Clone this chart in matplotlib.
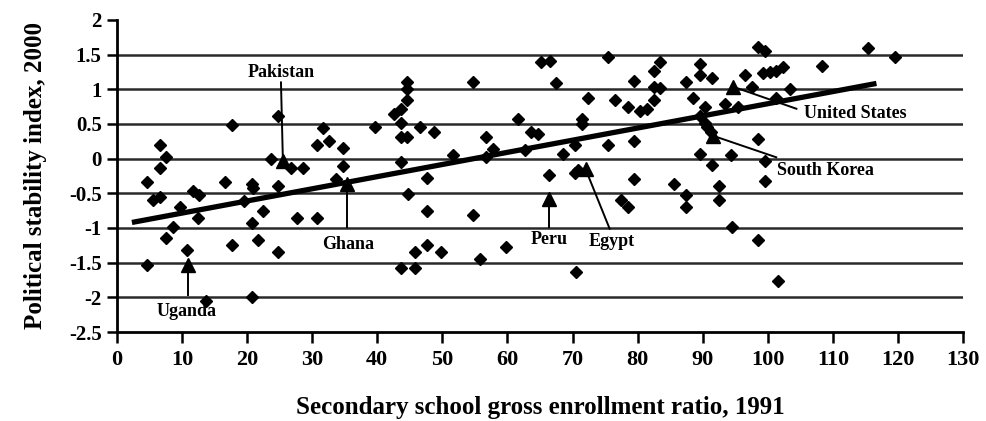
import matplotlib
matplotlib.use("Agg")
import matplotlib.pyplot as plt

plt.rcParams['font.family'] = ['Liberation Serif', 'DejaVu Serif']
plt.rcParams['font.weight'] = 'bold'

enroll = [4.6, 4.6, 6.6, 7.6, 6.6, 5.6, 6.6, 9.7, 8.6, 7.6, 10.7, 13.7, 20.7,
          11.7, 12.6, 12.5, 16.6, 17.6, 17.7, 19.5, 20.7, 20.9, 20.7, 21.7, 22.5,
          24.7, 24.7, 24.7, 23.6, 26.7, 28.6, 27.7, 30.7, 30.7, 31.7, 32.6, 34.8,
          34.8, 33.6, 39.7, 42.6, 43.6, 44.6, 44.6, 44.6, 43.6, 43.6, 44.6, 43.7,
          44.7, 43.6, 45.8, 45.8, 46.5, 47.6, 47.6, 47.6, 48.7, 49.8, 51.7, 54.7,
          54.7, 55.8, 56.7, 56.7, 57.8, 59.8, 61.6, 62.7, 63.6, 64.7, 65.2, 66.5,
          67.4, 66.4, 68.5, 70.4, 70.4, 70.5, 70.9, 71.5, 71.5, 72.4, 75.5, 75.5,
          76.5, 77.5, 78.5, 78.5, 79.5, 79.5, 79.5, 80.3, 81.4, 82.5, 82.5, 83.4,
          82.5, 83.4, 85.6, 87.5, 87.5, 87.5, 88.5, 89.6, 89.6, 89.6, 90.3, 90.6,
          89.6, 90.3, 91.5, 91.3, 91.5, 92.5, 92.5, 93.4, 94.4, 94.5, 95.4, 96.5,
          97.5, 98.5, 99.5, 99.3, 100.3, 101.3, 102.3, 98.5, 99.5, 99.5, 98.5,
          101.3, 103.4, 101.5, 108.4, 115.4, 119.5]
stability = [-0.34, -1.53, 0.20, 0.02, -0.14, -0.60, -0.56, -0.70, -0.99, -1.15, -1.32, -2.05, -2.00,
             -0.46, -0.53, -0.86, -0.34, 0.49, -1.25, -0.61, -0.37, -0.43, -0.93, -1.18, -0.76,
             0.62, -0.39, -1.35, 0.00, -0.14, -0.14, -0.85, -0.86, 0.20, 0.44, 0.26, 0.15,
             -0.10, -0.30, 0.45, 0.64, 0.72, 0.84, 1.00, 1.10, 0.51, 0.31, 0.31, -0.05,
             -0.51, -1.57, -1.57, -1.35, 0.45, -0.28, -0.75, -1.25, 0.38, -1.35, 0.06, 1.11,
             -0.81, -1.45, 0.31, 0.02, 0.14, -1.28, 0.57, 0.12, 0.39, 0.36, 1.39, 1.41,
             1.09, -0.23, 0.07, 0.19, -0.21, -1.64, -0.17, 0.57, 0.50, 0.87, 1.46, 0.19,
             0.85, -0.60, -0.70, 0.74, 1.12, 0.26, -0.29, 0.69, 0.72, 0.84, 1.03, 1.02,
             1.27, 1.40, -0.37, 1.10, -0.53, -0.70, 0.87, 1.37, 1.21, 0.62, 0.52, 0.45,
             0.07, 0.74, 1.16, 0.38, -0.09, -0.40, -0.60, 0.79, 0.06, -0.99, 0.74, 1.20,
             1.04, 1.61, 1.56, 1.24, 1.25, 1.27, 1.32, 0.28, -0.03, -0.32, -1.17,
             0.88, 1.00, -1.77, 1.34, 1.60, 1.46]

# highlighted countries
countries = ['Pakistan', 'Uganda', 'Ghana', 'Peru', 'Egypt', 'South Korea', 'United States']
country_x = [25.5, 10.9, 35.4, 66.4, 72.0, 91.6, 94.6]
country_y = [-0.04, -1.54, -0.36, -0.58, -0.15, 0.33, 1.04]
label_x = [25.2, 10.7, 35.5, 66.4, 76.0, 108.8, 113.4]
label_y = [1.24, -2.21, -1.24, -1.17, -1.20, -0.17, 0.65]
leader_start_x = [25.2, 10.9, 35.4, 66.4, 75.7, 101.3, 104.4]
leader_start_y = [1.10, -1.97, -0.98, -0.98, -1.01, 0.02, 0.72]

trend_x = [2.3, 116.7]
trend_y = [-0.92, 1.085]

xticks = list(range(0, 131, 10))
yticks = [-2.5, -2, -1.5, -1, -0.5, 0, 0.5, 1, 1.5, 2]
ytick_labels = ['-2.5', '-2', '-1.5', '-1', '-0.5', '0', '0.5', '1', '1.5', '2']

fig = plt.figure(figsize=(9.87, 4.21), dpi=100)
ax = fig.add_axes([0.1185, 0.2114, 0.8572, 0.7411])

for yv in yticks[1:-1]:
    ax.axhline(yv, color='#2a2a2a', lw=1.8, zorder=1)

ax.plot(trend_x, trend_y, color='black', lw=3.8, solid_capstyle='butt', zorder=3)
ax.plot(enroll, stability, linestyle='none', marker='D', ms=6.5,
        color='black', zorder=4)
ax.plot(country_x, country_y, linestyle='none', marker='^', ms=10.5,
        color='black', zorder=5)

for name, cx, cy, lx, ly, sx, sy in zip(countries, country_x, country_y,
                                         label_x, label_y,
                                         leader_start_x, leader_start_y):
    ax.plot([sx, cx], [sy, cy], color='black', lw=1.4, zorder=4)
    ax.text(lx, ly, name, ha='center', va='center', fontsize=13,
            fontweight='bold', zorder=6)

ax.set_xlim(0, 130)
ax.set_ylim(-2.5, 2)
ax.set_xticks(xticks)
ax.set_xticklabels([str(v) for v in xticks], fontsize=16, fontweight='bold')
ax.set_yticks(yticks)
ax.set_yticklabels(ytick_labels, fontsize=15, fontweight='bold')
ax.tick_params(axis='x', direction='out', length=8, width=1.8, pad=5)
ax.tick_params(axis='y', direction='out', length=7, width=1.8, pad=4)

for s in ['top', 'right']:
    ax.spines[s].set_visible(False)
for s in ['left', 'bottom']:
    ax.spines[s].set_linewidth(2)
    ax.spines[s].set_color('black')

ax.set_xlabel('Secondary school gross enrollment ratio, 1991', fontsize=18,
              fontweight='bold', labelpad=19)
ax.set_ylabel('Political stability index, 2000', fontsize=18,
              fontweight='bold', labelpad=16)

fig.savefig('out.png', dpi=100)
